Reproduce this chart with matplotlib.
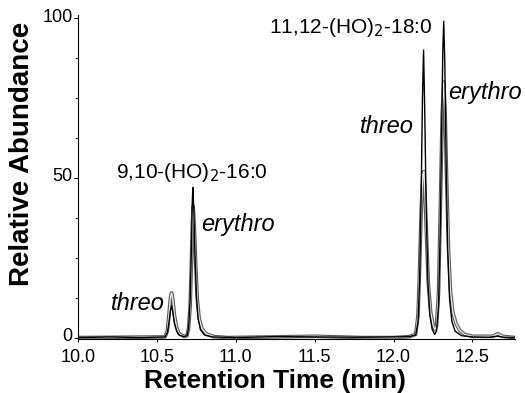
import numpy as np
import matplotlib
matplotlib.use("Agg")
import matplotlib.pyplot as plt
import matplotlib.transforms as mtransforms
from matplotlib.ticker import MultipleLocator

plt.rcParams['font.family'] = ['Liberation Sans', 'DejaVu Sans']

# trace 1 (black) - time (min), relative abundance
black_t = [10.00, 10.20, 10.40, 10.55, 10.565, 10.575, 10.585, 10.592, 10.60, 10.61,
           10.625, 10.64, 10.67, 10.69, 10.70, 10.71, 10.718, 10.723, 10.727, 10.733,
           10.74, 10.75, 10.76, 10.775, 10.80, 10.85, 11.00, 11.25, 11.50, 11.80,
           12.00, 12.10, 12.14, 12.155, 12.165, 12.175, 12.183, 12.19, 12.197, 12.207,
           12.217, 12.23, 12.245, 12.26, 12.272, 12.285, 12.295, 12.305, 12.312, 12.318,
           12.325, 12.333, 12.343, 12.355, 12.37, 12.39, 12.43, 12.50, 12.60, 12.66,
           12.70, 12.77]
black_y = [0.0, 0.2, 0.0, 0.2, 1.5, 4.5, 8.5, 10.0, 8.0, 4.5,
           2.0, 0.8, 0.3, 0.6, 3.0, 12.0, 28.0, 42.0, 47.0, 40.0,
           27.0, 13.0, 6.0, 2.5, 0.8, 0.2, 0.0, 0.3, 0.2, 0.1,
           0.2, 0.3, 0.8, 5.0, 18.0, 45.0, 75.0, 90.0, 72.0, 40.0,
           18.0, 7.0, 2.5, 1.0, 2.0, 10.0, 32.0, 65.0, 90.0, 99.0,
           85.0, 55.0, 28.0, 12.0, 5.0, 2.0, 0.6, 0.2, 0.1, 0.4,
           0.1, 0.0]

# trace 2 (grey, hollow)
grey_t = [10.00, 10.30, 10.55, 10.565, 10.575, 10.585, 10.592, 10.60, 10.61, 10.625,
          10.64, 10.67, 10.69, 10.70, 10.71, 10.718, 10.724, 10.729, 10.736, 10.745,
          10.755, 10.767, 10.785, 10.81, 10.86, 10.95, 11.25, 11.50, 11.80, 12.00,
          12.10, 12.14, 12.155, 12.165, 12.175, 12.185, 12.192, 12.20, 12.21, 12.22,
          12.235, 12.25, 12.262, 12.272, 12.285, 12.297, 12.308, 12.318, 12.326, 12.336,
          12.348, 12.36, 12.375, 12.395, 12.42, 12.45, 12.50, 12.63, 12.66, 12.69,
          12.77]
grey_y = [0.0, 0.1, 0.2, 2.0, 7.0, 12.5, 14.0, 12.0, 7.0, 3.0,
          1.2, 0.4, 0.6, 3.0, 10.0, 24.0, 36.0, 41.0, 35.0, 23.0,
          12.0, 6.0, 2.8, 1.2, 0.3, 0.0, 0.2, 0.4, 0.0, 0.0,
          0.3, 1.0, 7.0, 22.0, 40.0, 51.0, 52.0, 44.0, 30.0, 17.0,
          8.0, 4.0, 2.5, 3.5, 14.0, 42.0, 70.0, 80.0, 72.0, 50.0,
          28.0, 15.0, 8.0, 4.5, 2.2, 1.0, 0.4, 0.4, 1.2, 0.4,
          0.0]

x_ticks = [10.0, 10.5, 11.0, 11.5, 12.0, 12.5]
y_ticks = [0, 50, 100]

fig = plt.figure(figsize=(5.25, 3.93), dpi=100)
ax = fig.add_axes([0.149, 0.137, 0.832, 0.825])

# grey trace drawn as a hollow double line
ax.plot(grey_t, grey_y, color='0.35', lw=2.6, zorder=2, solid_joinstyle='round')
ax.plot(grey_t, grey_y, color='0.92', lw=1.0, zorder=3, solid_joinstyle='round')
ax.plot(black_t, black_y, color='black', lw=1.0, zorder=4)

ax.set_xlim(10.0, 12.77)
ax.set_ylim(-0.5, 101)
ax.set_xticks(x_ticks)
ax.set_xticklabels([f"{v:.1f}" for v in x_ticks])
ax.set_yticks(y_ticks)
ax.yaxis.set_minor_locator(MultipleLocator(12.5))
ax.tick_params(axis='both', which='major', labelsize=13, direction='out', length=3,
               width=0.7, colors='black')
ax.tick_params(axis='y', which='major', pad=1)
ax.tick_params(axis='x', which='major', length=2, pad=5)
ax.tick_params(axis='y', which='minor', length=2, width=0.6)

# y tick labels sit slightly above their ticks in the original
shift = mtransforms.ScaledTranslation(0, 3 / 100, fig.dpi_scale_trans)
for lab in ax.get_yticklabels():
    lab.set_transform(lab.get_transform() + shift)

for s in ['top', 'right']:
    ax.spines[s].set_visible(False)
ax.spines['left'].set_linewidth(0.8)
ax.spines['bottom'].set_linewidth(0.8)

ax.set_xlabel('Retention Time (min)', fontsize=19, fontweight='bold')
ax.set_ylabel('Relative Abundance', fontsize=20, fontweight='bold')
ax.xaxis.label.set_va('center')
ax.yaxis.label.set_va('center')
ax.xaxis.set_label_coords(0.451, -0.13)
ax.yaxis.set_label_coords(-0.128, 0.573)

ax.text(10.72, 49.8, r'9,10-(HO)$_2$-16:0', fontsize=15, ha='center', va='baseline')
ax.text(11.73, 95.3, r'11,12-(HO)$_2$-18:0', fontsize=15, ha='center', va='baseline')
ax.text(10.377, 8.5, 'threo', fontsize=17, style='italic', ha='center', va='baseline')
ax.text(11.015, 33.5, 'erythro', fontsize=17, style='italic', ha='center', va='baseline')
ax.text(11.958, 63.9, 'threo', fontsize=17, style='italic', ha='center', va='baseline')
ax.text(12.58, 74.6, 'erythro', fontsize=17, style='italic', ha='center', va='baseline')

fig.savefig('out.png', dpi=100)
